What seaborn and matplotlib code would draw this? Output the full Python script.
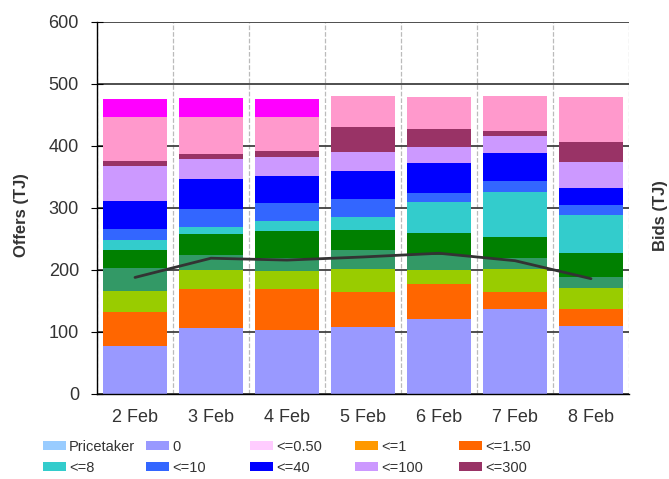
import numpy as np
import matplotlib
matplotlib.use("Agg")
import matplotlib.pyplot as plt
from matplotlib.patches import Patch
import seaborn as sns

dates = ['2 Feb', '3 Feb', '4 Feb', '5 Feb', '6 Feb', '7 Feb', '8 Feb']

band_labels = ['Pricetaker', '0', '<=0.50', '<=1', '<=1.50', '<=3', '<=5', '<=6',
               '<=8', '<=10', '<=40', '<=100', '<=300', '<=800', '<=1000']
band_colors = ['#99CCFF', '#9999FF', '#FFCCFF', '#FF9900', '#FF6600', '#99CC00', '#339966', '#008000',
               '#33CCCC', '#3366FF', '#0000FF', '#CC99FF', '#993366', '#FF99CC', '#FF00FF']

# offered quantity (TJ) in each price band, per day
pricetaker = [0, 0, 0, 0, 0, 0, 0]
band_0 = [77, 106, 104, 108, 121, 137, 110]
band_050 = [0, 0, 0, 0, 0, 0, 0]
band_1 = [0, 0, 0, 0, 0, 0, 0]
band_150 = [55, 64, 66, 57, 57, 28, 27]
band_3 = [34, 30, 28, 36, 22, 36, 34]
band_5 = [38, 24, 21, 32, 25, 18, 18]
band_6 = [28, 34, 44, 31, 34, 35, 39]
band_8 = [17, 12, 16, 22, 50, 72, 61]
band_10 = [17, 28, 29, 29, 16, 18, 16]
band_40 = [45, 48, 44, 44, 47, 44, 28]
band_100 = [57, 33, 31, 31, 27, 28, 42]
band_300 = [8, 8, 9, 40, 28, 9, 32]
band_800 = [70, 60, 54, 51, 52, 55, 72]
band_1000 = [30, 30, 30, 0, 0, 0, 0]

bids = [188, 219, 216, 221, 227, 215, 186]

bands = [pricetaker, band_0, band_050, band_1, band_150, band_3, band_5, band_6,
         band_8, band_10, band_40, band_100, band_300, band_800, band_1000]
legend_shown = ['Pricetaker', '0', '<=0.50', '<=1', '<=1.50',
                '<=8', '<=10', '<=40', '<=100', '<=300']

sns.set_style('white')
plt.rcParams['font.family'] = ['Liberation Sans', 'DejaVu Sans']

fig = plt.figure(figsize=(6.69, 4.79), dpi=100)
ax = fig.add_axes([97 / 669, 1 - 394 / 479, 532 / 669, 372 / 479])

cum = np.cumsum(np.array(bands), axis=0)
# stacked bars: draw the tallest cumulative first, then overlay lower ones
for i in range(len(bands) - 1, -1, -1):
    sns.barplot(x=dates, y=cum[i], color=band_colors[i], saturation=1, width=0.83,
                linewidth=0, errorbar=None, ax=ax)

ax.set_xlim(-0.5, 6.5)
ax.set_ylim(0, 600)
ax.set_yticks(range(0, 601, 100))
ax.set_xticks(np.arange(-0.5, 7, 1), minor=True)
ax.set_axisbelow(True)
ax.yaxis.grid(True, which='major', color='#404040', linewidth=1.3)
ax.xaxis.grid(True, which='minor', color='#BBBBBB', linestyle='--', linewidth=0.9)
ax.xaxis.grid(False, which='major')

for s in ['top', 'right']:
    ax.spines[s].set_visible(False)
for s in ['left', 'bottom']:
    ax.spines[s].set_color('black')
    ax.spines[s].set_linewidth(1.0)

ax.tick_params(axis='y', which='major', direction='inout', length=8, color='black',
               labelsize=13, labelcolor='#333333', pad=9)
ax.tick_params(axis='x', which='major', length=0, labelsize=13, labelcolor='#333333', pad=11)
ax.tick_params(axis='x', which='minor', direction='inout', length=8, color='black')

ax.set_xlabel('')
ax.set_ylabel('Offers (TJ)', fontsize=12, fontweight='bold', color='#333333')
ax.yaxis.set_label_coords(-0.128, 0.48)

ax2 = ax.twinx()
sns.lineplot(x=dates, y=bids, color='#333333', linewidth=2, sort=False, ax=ax2)
ax2.set_ylim(0, 600)
ax2.set_xlim(-0.5, 6.5)
ax2.set_yticks([])
for s in ax2.spines.values():
    s.set_visible(False)
ax2.set_ylabel('Bids (TJ)', fontsize=12, fontweight='bold', color='#333333')
ax2.yaxis.set_label_coords(1.046, 0.48)

# legend: five fixed-width columns, two rows
col_x = [42.7, 146, 250, 354.7, 458.7]
for c in range(5):
    labs = [legend_shown[c], legend_shown[c + 5]]
    handles = [Patch(facecolor=band_colors[band_labels.index(l)], edgecolor='none') for l in labs]
    fig.legend(handles, labs, loc='upper left', bbox_to_anchor=(col_x[c] / 669, 1 - 440 / 479),
               frameon=False, fontsize=10.5, handlelength=1.6, handleheight=0.55,
               handletextpad=0.2, labelspacing=0.45, borderpad=0, borderaxespad=0,
               labelcolor='#333333')

fig.savefig('out.png', dpi=100)
